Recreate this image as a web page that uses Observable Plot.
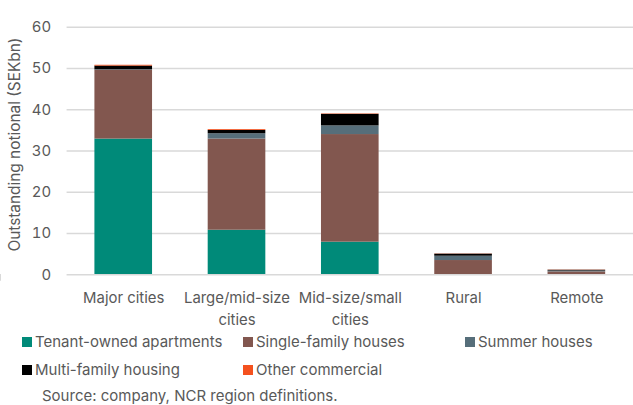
<!DOCTYPE html>
<html>
<head>
<meta charset="utf-8">
<script src="https://cdn.jsdelivr.net/npm/d3@7"></script>
<script src="https://cdn.jsdelivr.net/npm/@observablehq/plot@0.6"></script>
<style>
  html, body { margin: 0; background: #fff; font-family: Inter, "Noto Sans", sans-serif; overflow: hidden; }
  #wrap { position: relative; width: 633px; height: 405px; overflow: hidden; }
  .leg { position: absolute; font-size: 15px; line-height: 18px; color: #595959; display: flex; align-items: center; white-space: nowrap; }
  .sw { width: 10px; height: 10px; margin-right: 3px; display: inline-block; }
  #src { position: absolute; left: 42px; top: 387px; font-size: 15px; line-height: 18px; color: #595959; white-space: nowrap; }
</style>
</head>
<body>
<div id="wrap"></div>
<script>
const categories = ["Major cities", "Large/mid-size cities", "Mid-size/small cities", "Rural", "Remote"];
const categoryLabels = ["Major cities", "Large/mid-size\ncities", "Mid-size/small\ncities", "Rural", "Remote"];
const seriesNames = ["Tenant-owned apartments", "Single-family houses", "Summer houses", "Multi-family housing", "Other commercial"];
const seriesColors = ["#008A79", "#82574F", "#566E7A", "#000000", "#F4511E"];
const tenantOwned = [32.9, 10.8, 7.9, 0.0, 0.0];
const singleFamily = [16.7, 22.1, 26.1, 3.45, 0.7];
const summerHouses = [0.1, 1.3, 2.1, 1.05, 0.2];
const multiFamily = [0.9, 0.8, 2.8, 0.5, 0.2];
const otherCommercial = [0.2, 0.2, 0.1, 0.05, 0.05];
const yTicks = [0, 10, 20, 30, 40, 50, 60];
const yTitle = "Outstanding notional (SEKbn)";

const seriesValues = [tenantOwned, singleFamily, summerHouses, multiFamily, otherCommercial];
const rows = [];
seriesNames.forEach((s, si) => categories.forEach((c, ci) => rows.push({category: c, series: s, value: seriesValues[si][ci]})));

const font = "Inter, 'Noto Sans', sans-serif";
const NS = "http://www.w3.org/2000/svg";

const boundaryTicks = (index, scales, values, dims) => {
  const x = scales.x;
  const step = x(categories[1]) - x(categories[0]);
  const off = (step - x.bandwidth) / 2;
  const g = document.createElementNS(NS, "g");
  const y0 = scales.y(0);
  const xs = categories.map(c => x(c) - off).concat([x(categories[categories.length - 1]) + x.bandwidth + off]);
  for (const xv of xs) {
    const l = document.createElementNS(NS, "line");
    l.setAttribute("x1", xv); l.setAttribute("x2", xv);
    l.setAttribute("y1", y0); l.setAttribute("y2", y0 + 6);
    l.setAttribute("stroke", "#d9d9d9"); l.setAttribute("stroke-width", 1.5);
    g.appendChild(l);
  }
  // y-axis title
  const t = document.createElementNS(NS, "text");
  const cy = (scales.y(0) + scales.y(60)) / 2 - 6;
  t.setAttribute("transform", `translate(15,${cy}) rotate(-90)`);
  t.setAttribute("text-anchor", "middle");
  t.setAttribute("dominant-baseline", "central");
  t.setAttribute("fill", "#595959");
  t.setAttribute("font-size", 15.5);
  t.textContent = yTitle;
  g.appendChild(t);
  return g;
};

const chart = Plot.plot({
  width: 637,
  height: 332,
  marginLeft: 67,
  marginRight: 0,
  marginTop: 27,
  marginBottom: 56,
  style: {fontFamily: font, fontSize: "15px", color: "#595959", background: "#fff", overflow: "hidden"},
  x: {domain: categories, paddingInner: 0.49, paddingOuter: 0.245, label: null},
  y: {domain: [0, 60], ticks: yTicks, label: null},
  color: {domain: seriesNames, range: seriesColors},
  marks: [
    Plot.gridY(yTicks.filter(t => t > 0), {stroke: "#d9d9d9", strokeOpacity: 1, strokeWidth: 1.5}),
    Plot.barY(rows, {x: "category", y: "value", fill: "series", order: seriesNames}),
    Plot.ruleY([0], {stroke: "#d9d9d9", strokeWidth: 1.5}),
    boundaryTicks,
    Plot.axisY({ticks: yTicks, tickSize: 0, tickPadding: 16, fontSize: 15, fill: "#595959", label: null}),
    Plot.axisX({tickSize: 0, tickPadding: 13, fontSize: 15, fill: "#595959", lineHeight: 1.47, label: null,
      tickFormat: d => categoryLabels[categories.indexOf(d)]})
  ]
});

const wrap = document.getElementById("wrap");
wrap.appendChild(chart);

const legPos = [[22, 333], [243, 333], [465, 333], [22, 361], [243, 361]];
seriesNames.forEach((s, i) => {
  const d = document.createElement("div");
  d.className = "leg";
  d.style.left = legPos[i][0] + "px";
  d.style.top = legPos[i][1] + "px";
  d.innerHTML = `<span class="sw" style="background:${seriesColors[i]}"></span>${s}`;
  wrap.appendChild(d);
});
const src = document.createElement("div");
src.id = "src";
src.textContent = "Source: company, NCR region definitions.";
wrap.appendChild(src);
</script>
</body>
</html>
